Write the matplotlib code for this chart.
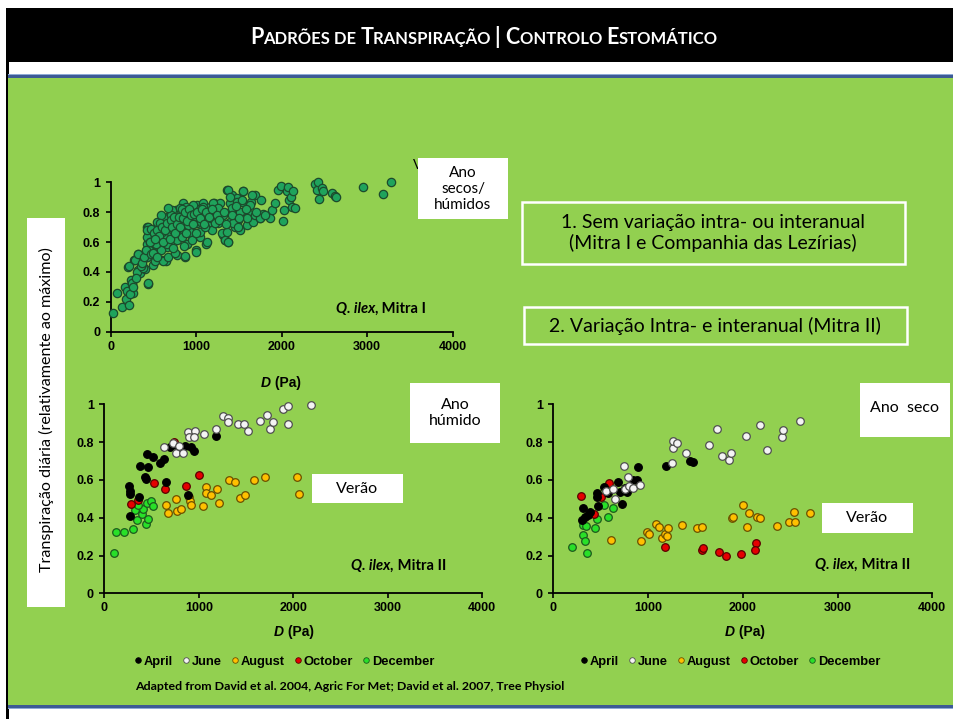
import matplotlib
matplotlib.use("Agg")
import matplotlib.pyplot as plt
import numpy as np
from matplotlib.patches import Rectangle
from matplotlib.lines import Line2D
from matplotlib.offsetbox import TextArea, HPacker, AnnotationBbox
from matplotlib import font_manager

W, H = 954, 719

# ---- data: Q. ilex, Mitra I (all dates)
m1_D = [31, 70, 136, 175, 168, 207, 218, 234, 253, 265, 277, 304, 324, 316, 343, 382, 402, 440,
        421, 421, 429, 460, 480, 480, 491, 518, 538, 538, 577, 596, 616, 635, 647, 655, 674, 694,
        713, 733, 752, 764, 780, 791, 811, 850, 858, 869, 889, 908, 928, 947, 975, 998, 1006, 1025,
        1045, 1084, 1103, 1115, 1142, 1162, 1181, 1208, 1220, 1259, 1279, 1298, 1318, 1337, 1365,
        1376, 1396, 1396, 1415, 1435, 1454, 1474, 1493, 1513, 1532, 1552, 1560, 1591, 1622, 1638,
        1661, 1688, 1747, 1758, 1786, 1864, 1883, 1922, 1961, 1988, 2019, 2027, 2058, 2078, 2090,
        2109, 2117, 2129, 2156, 2390, 2409, 2429, 2440, 2468, 2487, 2585, 2624, 2635, 2955, 3189, 3275,
        215, 246, 285, 324, 304, 382, 441, 421, 433, 440, 479, 499, 518, 557, 588, 616, 635, 655,
        674, 713, 733, 752, 772, 791, 811, 850, 869, 889, 908, 928, 947, 986, 994, 1005, 1044, 1064,
        1083, 1103, 1122, 1142, 1173, 1200, 1220, 1259, 1298, 1317, 1337, 1356, 1376, 1368, 1395,
        1415, 1434, 1473, 1493, 1512, 1532, 1551, 1590, 1629, 1648, 1687, 1746,
        421, 429, 460, 479, 518, 538, 565, 596, 627, 655, 682, 705, 733, 760, 783, 822, 838, 877,
        900, 955, 966, 1025, 1056, 853, 772, 674, 588,
        448, 470, 505, 525, 545, 560, 575, 600, 610, 640, 660, 690, 700, 720, 745, 755, 775, 800,
        815, 830, 845, 870, 880, 895, 915, 935, 960, 980, 1000, 1015, 1040, 1070, 1090, 1120, 1150,
        1190, 1240, 1270, 1330, 1350, 1420, 1460, 1500, 1580, 1700, 1800,
        190, 225, 260, 300, 350, 370, 395, 410, 455, 470, 500, 520, 540]
m1_T = [0.127, 0.26, 0.167, 0.22, 0.30, 0.435, 0.18, 0.346, 0.32, 0.257, 0.48, 0.49, 0.52, 0.41,
        0.39, 0.435, 0.42, 0.32, 0.50, 0.59, 0.70, 0.67, 0.61, 0.52, 0.446, 0.48, 0.70, 0.636, 0.57,
        0.48, 0.714, 0.636, 0.47, 0.57, 0.76, 0.66, 0.79, 0.60, 0.70, 0.815, 0.513, 0.636, 0.75,
        0.86, 0.68, 0.50, 0.59, 0.79, 0.70, 0.636, 0.815, 0.547, 0.85, 0.737, 0.636, 0.86, 0.77,
        0.59, 0.725, 0.837, 0.68, 0.86, 0.79, 0.725, 0.86, 0.78, 0.647, 0.614, 0.95, 0.60, 0.86,
        0.737, 0.915, 0.815, 0.703, 0.893, 0.748, 0.68, 0.87, 0.94, 0.78, 0.714, 0.79, 0.87, 0.737,
        0.915, 0.76, 0.88, 0.79, 0.76, 0.815, 0.86, 0.95, 0.975, 0.743, 0.815, 0.94, 0.967, 0.88,
        0.904, 0.837, 0.94, 0.83, 0.99, 0.95, 1.0, 0.89, 0.96, 0.94, 0.926, 0.91, 0.90, 0.97, 0.92, 1.0,
        0.44, 0.324, 0.48, 0.52, 0.40, 0.424, 0.324, 0.50, 0.625, 0.70, 0.67, 0.57, 0.47, 0.714,
        0.547, 0.47, 0.625, 0.77, 0.50, 0.815, 0.68, 0.525, 0.614, 0.748, 0.826, 0.714, 0.51, 0.59,
        0.78, 0.67, 0.614, 0.826, 0.536, 0.725, 0.67, 0.78, 0.837, 0.703, 0.60, 0.80, 0.76, 0.86,
        0.725, 0.826, 0.66, 0.78, 0.614, 0.67, 0.60, 0.95, 0.904, 0.826, 0.725, 0.87, 0.703, 0.80,
        0.88, 0.94, 0.76, 0.85, 0.915, 0.78, 0.76,
        0.636, 0.68, 0.60, 0.536, 0.636, 0.737, 0.60, 0.67, 0.76, 0.59, 0.703, 0.78, 0.558, 0.737,
        0.66, 0.79, 0.636, 0.837, 0.714, 0.76, 0.848, 0.79, 0.737, 0.576, 0.69, 0.826, 0.78,
        0.55, 0.69, 0.66, 0.59, 0.68, 0.64, 0.73, 0.70, 0.60, 0.68, 0.73, 0.62, 0.75, 0.70, 0.77,
        0.66, 0.72, 0.77, 0.70, 0.82, 0.76, 0.80, 0.66, 0.74, 0.82, 0.78, 0.72, 0.79, 0.66, 0.80,
        0.76, 0.82, 0.72, 0.80, 0.77, 0.82, 0.78, 0.75, 0.80, 0.72, 0.78, 0.84, 0.76, 0.82, 0.80, 0.78,
        0.27, 0.25, 0.30, 0.36, 0.44, 0.46, 0.50, 0.55, 0.60, 0.52, 0.53, 0.62, 0.50]

# ---- data: Q. ilex, Mitra II, wet year (left) and dry year (right)
months = ["April", "June", "August", "October", "December"]
wet_D = {
    "April": [272, 261, 272, 272, 370, 377, 430, 441, 459, 448, 511, 589, 631, 653, 695, 783, 854,
              917, 949, 889, 1178],
    "June": [635, 730, 755, 790, 836, 889, 899, 959, 952, 1058, 1178, 1259, 1312, 1305, 1418, 1481,
             1524, 1647, 1718, 1753, 1781, 1894, 1947, 1947, 2183],
    "August": [649, 677, 758, 772, 811, 900, 907, 917, 1048, 1072, 1072, 1125, 1196, 1217, 1319,
               1383, 1436, 1489, 1584, 1700, 2035, 2056],
    "October": [279, 353, 526, 642, 737, 864, 1005],
    "December": [106, 120, 212, 307, 325, 349, 395, 406, 441, 448, 466, 490, 515, 360],
}
wet_T = {
    "April": [0.41, 0.568, 0.54, 0.524, 0.51, 0.674, 0.614, 0.605, 0.67, 0.737, 0.723, 0.69, 0.709,
              0.59, 0.776, 0.772, 0.78, 0.772, 0.753, 0.52, 0.832],
    "June": [0.776, 0.794, 0.74, 0.78, 0.74, 0.852, 0.829, 0.86, 0.825, 0.843, 0.87, 0.938, 0.93,
             0.905, 0.898, 0.898, 0.859, 0.914, 0.945, 0.87, 0.908, 0.977, 0.99, 0.896, 0.998],
    "August": [0.466, 0.427, 0.499, 0.436, 0.444, 0.511, 0.49, 0.466, 0.46, 0.563, 0.529, 0.52,
               0.554, 0.48, 0.60, 0.587, 0.506, 0.52, 0.601, 0.617, 0.617, 0.524],
    "October": [0.473, 0.494, 0.586, 0.552, 0.80, 0.57, 0.624],
    "December": [0.213, 0.325, 0.325, 0.342, 0.441, 0.386, 0.42, 0.448, 0.367, 0.48, 0.392, 0.49,
                 0.464, 0.466],
}
dry_D = {
    "April": [299, 317, 334, 387, 369, 457, 457, 475, 538, 580, 686, 721, 704, 756, 774, 844, 887,
              890, 1186, 1442, 1471],
    "June": [556, 626, 651, 746, 756, 785, 802, 837, 915, 1256, 1259, 1259, 1305, 1400, 1646, 1731,
             1777, 1858, 1872, 2033, 2181, 2252, 2410, 2427, 2603],
    "August": [605, 925, 992, 1010, 1084, 1119, 1143, 1178, 1203, 1214, 1361, 1513, 1566, 1882,
               1893, 1998, 2069, 2044, 2146, 2181, 2357, 2487, 2540, 2551, 2709],
    "October": [292, 429, 500, 591, 1178, 1566, 1576, 1748, 1822, 1977, 2135, 2128],
    "December": [201, 310, 317, 334, 352, 345, 380, 440, 457, 535, 573, 633],
}
dry_T = {
    "April": [0.388, 0.45, 0.406, 0.432, 0.414, 0.511, 0.533, 0.462, 0.561, 0.529, 0.591, 0.471,
              0.538, 0.556, 0.538, 0.60, 0.60, 0.667, 0.675, 0.70, 0.697],
    "June": [0.543, 0.55, 0.50, 0.674, 0.554, 0.614, 0.568, 0.556, 0.573, 0.691, 0.769, 0.806,
             0.797, 0.742, 0.783, 0.868, 0.725, 0.704, 0.741, 0.831, 0.889, 0.758, 0.829, 0.864, 0.914],
    "August": [0.282, 0.277, 0.323, 0.314, 0.367, 0.353, 0.291, 0.312, 0.305, 0.347, 0.363, 0.347,
               0.351, 0.40, 0.406, 0.467, 0.425, 0.351, 0.402, 0.40, 0.358, 0.377, 0.432, 0.377, 0.427],
    "October": [0.515, 0.42, 0.511, 0.582, 0.243, 0.231, 0.238, 0.217, 0.199, 0.206, 0.265, 0.229],
    "December": [0.245, 0.363, 0.309, 0.277, 0.213, 0.356, 0.42, 0.346, 0.393, 0.467, 0.406, 0.45],
}
plot_order = ["December", "August", "October", "April", "June"]

x_ticks = [0, 1000, 2000, 3000, 4000]
x_labels = ["0", "1000", "2000", "3000", "4000"]
y_ticks = [0, 0.2, 0.4, 0.6, 0.8, 1.0]
y_labels = ["0", "0.2", "0.4", "0.6", "0.8", "1"]

fill = {"April": "#000000", "June": "#f4f4f4", "August": "#ffc000",
        "October": "#e50000", "December": "#28e028"}
edge = {"April": "#000000", "June": "#505050", "August": "#6b5000",
        "October": "#5a0000", "December": "#1d5a1d"}

BG = "#92d050"
names = {f.name for f in font_manager.fontManager.ttflist}
NARROW = "Liberation Sans Narrow" if "Liberation Sans Narrow" in names else "Liberation Sans"
CAL = "Lato"
ARIAL = "Liberation Sans"


def fx(px):
    return px / W


def fy(py):
    return 1 - py / H


fig = plt.figure(figsize=(W / 100, H / 100), dpi=100)
fig.patch.set_facecolor("white")


def prect(x0, y0, x1, y1, **kw):
    r = Rectangle((fx(x0), fy(y1)), (x1 - x0) / W, (y1 - y0) / H,
                  transform=fig.transFigure, **kw)
    fig.patches.append(r)
    return r


# slide background
prect(6, 8, 954, 62, facecolor="black", edgecolor="none", zorder=-5)
prect(6, 8, 8.5, 719, facecolor="black", edgecolor="none", zorder=-5)
prect(8, 73.5, 954, 75, facecolor="#8eaad6", edgecolor="none", zorder=-5)
prect(8, 75, 954, 77.5, facecolor="#3c5a95", edgecolor="none", zorder=-5)
prect(8.5, 77.5, 954, 705, facecolor=BG, edgecolor="none", zorder=-5)
prect(8.5, 705, 954, 707.5, facecolor="#3c5a95", edgecolor="none", zorder=-5)
prect(8.5, 707.5, 954, 709, facecolor="#8eaad6", edgecolor="none", zorder=-5)


def hbox(parts, x, y, color="black"):
    kids = [TextArea(t, textprops=dict(color=color, **p)) for t, p in parts]
    pack = HPacker(children=kids, align="baseline", pad=0, sep=0)
    ab = AnnotationBbox(pack, (fx(x), fy(y)), xycoords="figure fraction",
                        frameon=False, box_alignment=(0.5, 0.5), pad=0)
    fig.add_artist(ab)


# title in small caps
big = dict(family=CAL, weight="bold", size=15.5)
small = dict(family=CAL, weight="bold", size=12)
hbox([("P", big), ("ADRÕES DE ", small), ("T", big), ("RANSPIRAÇÃO ", small),
      ("| C", big), ("ONTROLO ", small), ("E", big), ("STOMÁTICO", small)],
     484, 37, color="white")


def style_axes(ax):
    ax.set_facecolor("none")
    ax.set_xlim(0, 4000)
    ax.set_ylim(0, 1)
    for s in ["top", "right"]:
        ax.spines[s].set_visible(False)
    for s in ["left", "bottom"]:
        ax.spines[s].set_linewidth(1.3)
    ax.set_xticks(x_ticks)
    ax.set_xticklabels(x_labels)
    ax.set_yticks(y_ticks)
    ax.set_yticklabels(y_labels)
    ax.tick_params(direction="out", length=3.5, width=1.2, pad=3)
    ax.tick_params(axis="y", pad=4)
    for lab in ax.get_xticklabels() + ax.get_yticklabels():
        lab.set_family(ARIAL)
        lab.set_weight("bold")
        lab.set_size(9)


# top panel
ax1 = fig.add_axes([fx(110.7), fy(331.7), (452.7 - 110.7) / W, (331.7 - 182.3) / H])
style_axes(ax1)
ax1.scatter(m1_D, m1_T, s=36, c="#1fa35c", edgecolors="#1c4a2c", linewidths=0.9,
            clip_on=False, zorder=3)

# bottom panels
ax2 = fig.add_axes([fx(104.3), fy(593.3), 378 / W, 189 / H])
ax3 = fig.add_axes([fx(553.3), fy(593.3), 379 / W, 189 / H])
for ax, dD, dT in [(ax2, wet_D, wet_T), (ax3, dry_D, dry_T)]:
    style_axes(ax)
    for m in plot_order:
        ax.scatter(dD[m], dT[m], s=30, c=fill[m], edgecolors=edge[m], linewidths=0.9,
                   clip_on=False, zorder=3)

# axis labels "D (Pa)"
bi = dict(family=ARIAL, weight="bold", style="italic", size=10)
bb = dict(family=ARIAL, weight="bold", size=10)
for x, y in [(281, 383), (294, 632), (745, 632)]:
    hbox([("D", bi), (" (Pa)", bb)], x, y)

# species / site labels
qi = dict(family=CAL, weight="bold", style="italic", size=10.6)
qb = dict(family=CAL, weight="bold", size=10.6)
hbox([("Q. ilex,", qi), (" Mitra I", qb)], 381, 309)
hbox([("Q. ilex,", qi), (" Mitra II", qb)], 399, 566)
hbox([("Q. ilex,", qi), (" Mitra II", qb)], 863, 565)

# y label box
prect(27, 218, 65, 607, facecolor="white", edgecolor="none", zorder=1)
fig.text(fx(46), fy(410), "Transpiração diária (relativamente ao máximo)", rotation=90,
         ha="center", va="center", family=CAL, size=11.6, zorder=2)

# hidden letter behind the top box
fig.text(fx(418), fy(165), "V", ha="center", va="center", family=CAL, size=10, zorder=0.5)

# white text boxes
boxes = [
    ((418, 158, 508, 219), "Ano\nsecos/\nhúmidos", (463, 189), 11),
    ((410, 383, 500, 443), "Ano\nhúmido", (455, 413), 11.5),
    ((312, 474, 403, 503), "Verão", (357.5, 489), 11.5),
    ((860, 383, 950, 437), "Ano  seco", (905, 408), 11.5),
    ((822, 503, 913, 533), "Verão", (867.5, 518), 11.5),
]
for (x0, y0, x1, y1), txt, (tx, ty), fs in boxes:
    prect(x0, y0, x1, y1, facecolor="white", edgecolor="none", zorder=1)
    fig.text(fx(tx), fy(ty), txt, ha="center", va="center", family=CAL, size=fs,
             linespacing=1.15, zorder=2)

# outlined headings
prect(522, 202, 905, 264, facecolor="none", edgecolor="white", linewidth=1.8, zorder=1)
fig.text(fx(713), fy(233), "1. Sem variação intra- ou interanual\n(Mitra I e Companhia das Lezírias)",
         ha="center", va="center", family=CAL, size=14, linespacing=1.2, zorder=2)
prect(524, 307, 907, 344, facecolor="none", edgecolor="white", linewidth=1.8, zorder=1)
fig.text(fx(715), fy(325.5), "2. Variação Intra- e interanual (Mitra II)",
         ha="center", va="center", family=CAL, size=14, zorder=2)

# legends
handles = [Line2D([], [], marker="o", ls="", ms=4, mfc=fill[m], mec=edge[m], mew=0.6)
           for m in months]
for x0 in [133, 579]:
    fig.legend(handles, months, loc="center left", bbox_to_anchor=(fx(x0), fy(662)),
               ncol=5, frameon=False, handlelength=0.7, handletextpad=0.1,
               columnspacing=0.68, borderpad=0, borderaxespad=0,
               prop=dict(family=NARROW, weight="bold", size=9.3))

fig.text(fx(135), fy(686), "Adapted from David et al. 2004, Agric For Met; David et al. 2007, Tree Physiol",
         ha="left", va="center", family=CAL, weight="bold", size=8.9)

fig.savefig("out.png", dpi=100, facecolor=fig.get_facecolor())
